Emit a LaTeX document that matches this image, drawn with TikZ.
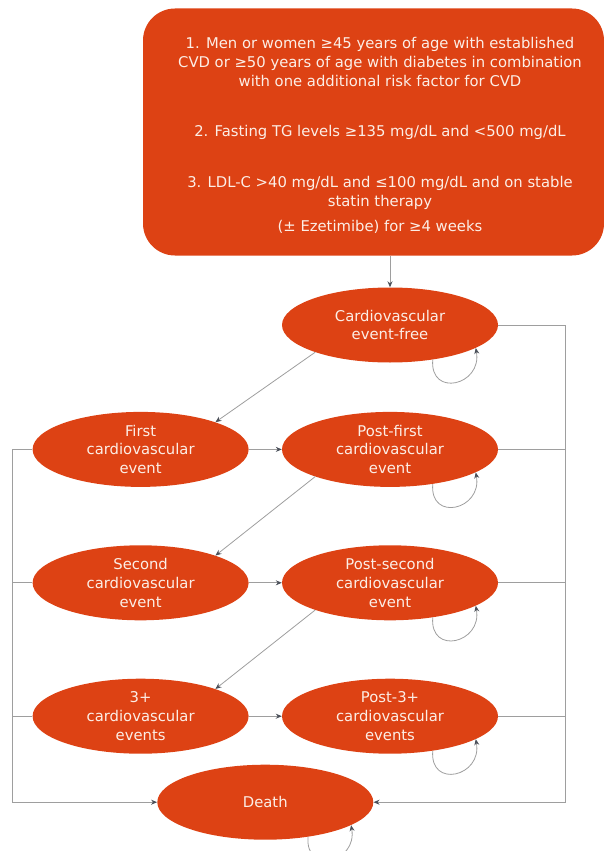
\documentclass[tikz,border=0pt]{standalone}
\usepackage{fontspec}
\setmainfont{DejaVu Sans}
\usepackage{tikz}
\usetikzlibrary{arrows.meta,%
                shapes,positioning}
\usetikzlibrary{calc}

\definecolor{stateorange}{RGB}{221,66,20}
\definecolor{statetext}{RGB}{252,238,230}
\definecolor{linegray}{RGB}{158,158,158}
\definecolor{tipgray}{RGB}{75,80,90}

\begin{document}
\begin{tikzpicture}[x=1pt,y=1pt]
  \useasboundingbox (0,0) rectangle (604,-851);
  \tikzset{StateStyle/.style = {shape=ellipse, fill=stateorange, text=statetext, inner sep=0pt,
      minimum width=216pt, minimum height=75pt, align=center, font=\fontsize{14.8}{18.8}\selectfont}}
  \tikzset{BoxStyle/.style = {shape=rectangle, fill=stateorange, rounded corners=32pt, inner sep=0pt,
      minimum width=461pt, minimum height=247pt}}
  \tikzset{CritStyle/.style = {text=statetext, inner sep=0pt, align=center, font=\fontsize{14.8}{18.8}\selectfont}}
  \tikzset{LineStyle/.style = {draw=linegray, line width=0.8pt}}
  \tikzset{EdgeStyle/.style = {LineStyle, -{Stealth[length=6pt, width=5pt, color=tipgray]}}}
  \tikzset{LoopStyle/.style = {EdgeStyle, out=265, in=280, looseness=2.2}}

  % inclusion criteria
  \node(incl)[BoxStyle] at (373.5,-132) {};
  \node(crit)[CritStyle] at ($(incl.center)+(6.5,-3.5)$) {%
    1. Men or women ≥45 years of age with established\\
    CVD or ≥50 years of age with diabetes in combination\\
    with one additional risk factor for CVD\\[32pt]
    2. Fasting TG levels ≥135 mg/dL and <500 mg/dL\\[32pt]
    3. LDL-C >40 mg/dL and ≤100 mg/dL and on stable\\
    statin therapy\\[6.5pt]
    (± Ezetimibe) for ≥4 weeks};

  % states
  \node(efree)[StateStyle] at (390,-325) {Cardiovascular\\event-free};
  \node(postfirst)[StateStyle, below=49pt of efree] {Post-first\\cardiovascular\\event};
  \node(first)[StateStyle, left=33pt of postfirst] {First\\cardiovascular\\event};
  \node(postsecond)[StateStyle, below=58pt of postfirst] {Post-second\\cardiovascular\\event};
  \node(second)[StateStyle, left=33pt of postsecond] {Second\\cardiovascular\\event};
  \node(postthree)[StateStyle, below=58pt of postsecond] {Post-3+\\cardiovascular\\events};
  \node(three)[StateStyle, left=33pt of postthree] {3+\\cardiovascular\\events};
  \node(death)[StateStyle] at ($(three)!0.5!(postthree)+(0,-86)$) {Death};

  \coordinate(lrail) at (12,-801);
  \coordinate(rrail) at (565,-801);

  \draw[EdgeStyle](incl.south -| efree.north) -- (efree.north);

  \draw[EdgeStyle](efree.200) -- (first.20);
  \draw[EdgeStyle](postfirst.200) -- (second.20);
  \draw[EdgeStyle](postsecond.200) -- (three.20);

  \draw[EdgeStyle](first) -- (postfirst);
  \draw[EdgeStyle](second) -- (postsecond);
  \draw[EdgeStyle](three) -- (postthree);

  % to death
  \draw[EdgeStyle](first.west) -- (first.west -| lrail) |- (death.west);
  \draw[LineStyle](second.west) -- (second.west -| lrail);
  \draw[LineStyle](three.west) -- (three.west -| lrail);
  \draw[EdgeStyle](efree.east) -- (efree.east -| rrail) |- (death.east);
  \draw[LineStyle](postfirst.east) -- (postfirst.east -| rrail);
  \draw[LineStyle](postsecond.east) -- (postsecond.east -| rrail);
  \draw[LineStyle](postthree.east) -- (postthree.east -| rrail);

  % self loops
  \draw[LoopStyle](efree.321) to (efree.345);
  \draw[LoopStyle](postfirst.321) to (postfirst.345);
  \draw[LoopStyle](postsecond.321) to (postsecond.345);
  \draw[LoopStyle](postthree.321) to (postthree.345);
  \draw[LoopStyle](death.321) to (death.345);

\end{tikzpicture}
\end{document}
